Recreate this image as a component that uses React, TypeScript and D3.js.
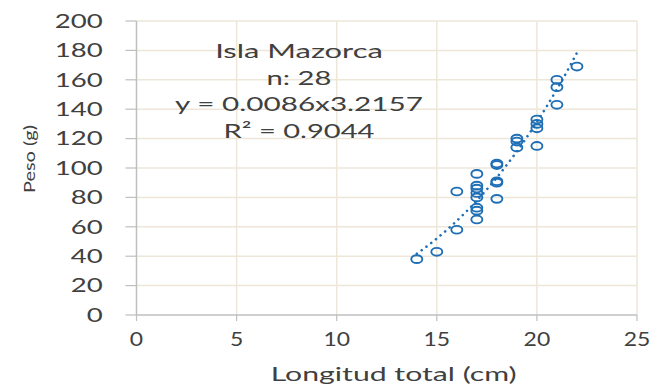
import React from "react";
import * as d3 from "d3";

// Fish total length (cm) and weight (g), Isla Mazorca sample
const lengths = [14, 15, 16, 16, 17, 17, 17, 17, 17, 17, 17, 17, 18, 18, 18, 18, 18, 19, 19, 19, 20, 20, 20, 20, 21, 21, 21, 22];
const weights = [38, 43, 58, 84, 96, 88, 86, 83, 80, 73, 71, 65, 103, 102, 91, 90, 79, 120, 118, 114, 133, 130, 127, 115, 160, 155, 143, 169];

const xTicks = [0, 5, 10, 15, 20, 25];
const yTicks = [0, 20, 40, 60, 80, 100, 120, 140, 160, 180, 200];

// Power-law fit: W = a * L^b
const fitA = 0.0086;
const fitB = 3.2157;
const fitRange = [14, 22];

const annotationLines = ["Isla Mazorca", "n: 28", "y = 0.0086x3.2157", "R² = 0.9044"];
const xTitle = "Longitud total (cm)";
const yTitle = "Peso  (g)";

const W = 664;
const H = 385;
const FONT = "Lato, 'DejaVu Sans', sans-serif";
const TEXT = "#404040";
const GRID = "#EEE7D9";
const AXIS = "#BFBFBF";
const BLUE = "#1F6FB6";

export default function App() {
  const x = d3.scaleLinear().domain([0, 25]).range([136.5, 637]);
  const y = d3.scaleLinear().domain([0, 200]).range([315, 21]);

  const fitPts = d3.range(fitRange[0], fitRange[1] + 0.001, 0.1).map((l) => [l, fitA * Math.pow(l, fitB)] as [number, number]);
  const fitPath = d3
    .line<[number, number]>()
    .x((d) => x(d[0]))
    .y((d) => y(d[1]))(fitPts) as string;

  const annWidths = [167.7, 65, 248, 151];
  const annBase = [57.7, 85, 110.5, 137.7];

  return (
    <svg
      width={W}
      height={H}
      viewBox={`0 0 ${W} ${H}`}
      style={{ position: "absolute", left: 0, top: 0, background: "#fff" }}
      fontFamily={FONT}
    >
      {/* gridlines */}
      {yTicks.slice(1).map((t) => (
        <line key={"gy" + t} x1={x(0)} x2={x(25)} y1={y(t)} y2={y(t)} stroke={GRID} strokeWidth={1.5} />
      ))}
      {xTicks.slice(1).map((t) => (
        <line key={"gx" + t} x1={x(t)} x2={x(t)} y1={y(0)} y2={y(200)} stroke={GRID} strokeWidth={1.5} />
      ))}

      {/* axes */}
      <line x1={x(0)} x2={x(0)} y1={y(0)} y2={y(200)} stroke={AXIS} strokeWidth={1.5} />
      <line x1={x(0)} x2={x(25)} y1={y(0)} y2={y(0)} stroke={AXIS} strokeWidth={1.5} />
      {yTicks.map((t) => (
        <line key={"ty" + t} x1={x(0) - 11} x2={x(0)} y1={y(t)} y2={y(t)} stroke={AXIS} strokeWidth={1.2} />
      ))}
      {xTicks.map((t) => (
        <line key={"tx" + t} x1={x(t)} x2={x(t)} y1={y(0)} y2={y(0) + 6} stroke={AXIS} strokeWidth={1.2} />
      ))}

      {/* tick labels */}
      {yTicks.map((t) => {
        const s = String(t);
        return (
          <text
            key={"ly" + t}
            x={102.7}
            y={y(t) + 6.8}
            textAnchor="end"
            fontSize={19.5}
            fill={TEXT}
            textLength={16 * s.length}
            lengthAdjust="spacingAndGlyphs"
          >
            {s}
          </text>
        );
      })}
      {xTicks.map((t) => {
        const s = String(t);
        return (
          <text
            key={"lx" + t}
            x={x(t)}
            y={346}
            textAnchor="middle"
            fontSize={19}
            fill={TEXT}
            textLength={13.3 * s.length}
            lengthAdjust="spacingAndGlyphs"
          >
            {s}
          </text>
        );
      })}

      {/* axis titles */}
      <text x={393.7} y={381} textAnchor="middle" fontSize={20} fill={TEXT} textLength={246} lengthAdjust="spacingAndGlyphs">
        {xTitle}
      </text>
      <text
        transform="translate(35,159) rotate(-90)"
        textAnchor="middle"
        fontSize={15.5}
        fill={TEXT}
        textLength={68}
        lengthAdjust="spacingAndGlyphs"
      >
        {yTitle}
      </text>

      {/* trend line */}
      <path d={fitPath} fill="none" stroke={BLUE} strokeWidth={2.6} strokeLinecap="round" strokeDasharray="0.01 6" />

      {/* observations */}
      {lengths.map((l, i) => (
        <ellipse key={"p" + i} cx={x(l)} cy={y(weights[i])} rx={5.5} ry={3.9} fill="none" stroke={BLUE} strokeWidth={1.9} />
      ))}

      {/* annotation */}
      {annotationLines.map((s, i) => (
        <text
          key={"a" + i}
          x={299}
          y={annBase[i]}
          textAnchor="middle"
          fontSize={20}
          fill={TEXT}
          textLength={annWidths[i]}
          lengthAdjust="spacingAndGlyphs"
        >
          {s}
        </text>
      ))}
    </svg>
  );
}
